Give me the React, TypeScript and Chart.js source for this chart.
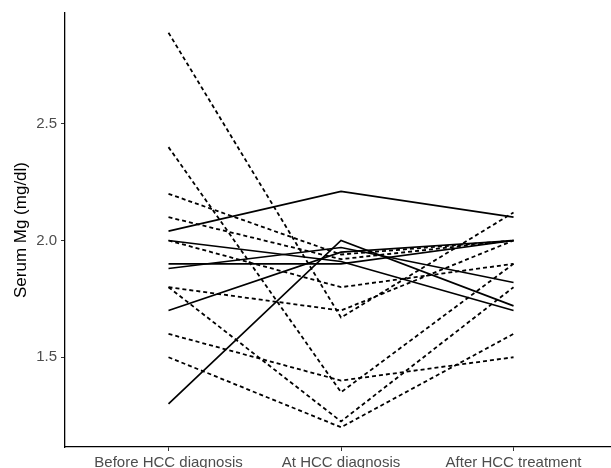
import React, { useEffect, useRef } from "react";
import { Chart, registerables } from "chart.js";

Chart.register(...registerables);

const categories = ["Before HCC diagnosis", "At HCC diagnosis", "After HCC treatment"];
const yTicks = [1.5, 2.0, 2.5];

// solid-line patients
const solid1 = [2.04, 2.21, 2.1];
const solid2 = [1.3, 2.0, 1.72];
const solid3 = [2.0, 1.91, 1.7];
const solid4 = [1.9, 1.9, 2.0];
const solid5 = [1.88, 1.97, 1.82];
const solid6 = [1.7, 1.95, 2.0];

// dashed-line patients
const dashed1 = [2.89, 1.67, 2.12];
const dashed2 = [2.4, 1.35, 1.9];
const dashed3 = [2.2, 1.94, 2.0];
const dashed4 = [2.1, 1.92, 2.0];
const dashed5 = [2.0, 1.8, 1.9];
const dashed6 = [1.8, 1.7, 2.0];
const dashed7 = [1.8, 1.225, 1.8];
const dashed8 = [1.6, 1.4, 1.5];
const dashed9 = [1.5, 1.2, 1.6];

const solidSeries = [solid1, solid2, solid3, solid4, solid5, solid6];
const dashedSeries = [dashed1, dashed2, dashed3, dashed4, dashed5, dashed6, dashed7, dashed8, dashed9];

const FONT = "'Liberation Sans', Arial, Helvetica, sans-serif";

export default function App() {
  const ref = useRef<HTMLCanvasElement | null>(null);

  useEffect(() => {
    if (!ref.current) return;
    const toPts = (arr: number[]) => arr.map((v, i) => ({ x: i + 1, y: v }));
    const all = [...solidSeries, ...dashedSeries].flat();
    const lo = Math.min(...all);
    const hi = Math.max(...all);
    const pad = (hi - lo) * 0.05;

    const datasets: any[] = [
      ...dashedSeries.map((s, i) => ({
        label: "d" + i,
        data: toPts(s),
        borderColor: "#000",
        borderWidth: 1.8,
        borderDash: [4, 3],
        pointRadius: 0,
        fill: false,
        tension: 0,
      })),
      ...solidSeries.map((s, i) => ({
        label: "s" + i,
        data: toPts(s),
        borderColor: "#000",
        borderWidth: 1.7,
        pointRadius: 0,
        fill: false,
        tension: 0,
      })),
    ];

    const chart = new Chart(ref.current, {
      type: "line",
      data: { datasets },
      options: {
        animation: false,
        responsive: false,
        devicePixelRatio: 1,
        layout: { padding: { top: 12, right: 0, left: 0, bottom: 0 } },
        plugins: { legend: { display: false }, tooltip: { enabled: false } },
        scales: {
          x: {
            type: "linear",
            min: 0.4,
            max: 3.565,
            afterBuildTicks: (scale: any) => {
              scale.ticks = categories.map((_, i) => ({ value: i + 1 }));
            },
            afterFit: (scale: any) => {
              scale.height = 21;
            },
            ticks: {
              autoSkip: false,
              maxRotation: 0,
              minRotation: 0,
              padding: 3,
              color: "#4d4d4d",
              font: { family: FONT, size: 15 },
              callback: (v: any) => categories[Math.round(Number(v)) - 1] ?? "",
            },
            grid: {
              display: true,
              drawOnChartArea: false,
              drawTicks: true,
              tickLength: 4,
              color: "#333",
              lineWidth: 1,
            },
            border: { display: true, color: "#000", width: 1.3 },
          },
          y: {
            type: "linear",
            min: lo - pad,
            max: hi + pad,
            afterBuildTicks: (scale: any) => {
              scale.ticks = yTicks.map((v) => ({ value: v }));
            },
            afterFit: (scale: any) => {
              scale.width = 65;
            },
            ticks: {
              padding: 4,
              color: "#4d4d4d",
              font: { family: FONT, size: 15 },
              callback: (v: any) => Number(v).toFixed(1),
            },
            grid: {
              display: true,
              drawOnChartArea: false,
              drawTicks: true,
              tickLength: 4,
              color: "#333",
              lineWidth: 1,
            },
            border: { display: true, color: "#000", width: 1.3 },
            title: {
              display: true,
              text: "Serum Mg (mg/dl)",
              color: "#000",
              font: { family: FONT, size: 17 },
              padding: { top: 11, bottom: 0 },
            },
          },
        },
      },
    });
    return () => chart.destroy();
  }, []);

  return (
    <div style={{ position: "absolute", left: 0, top: 0, width: 611, height: 468, background: "#fff" }}>
      <canvas ref={ref} width={611} height={468} />
    </div>
  );
}
